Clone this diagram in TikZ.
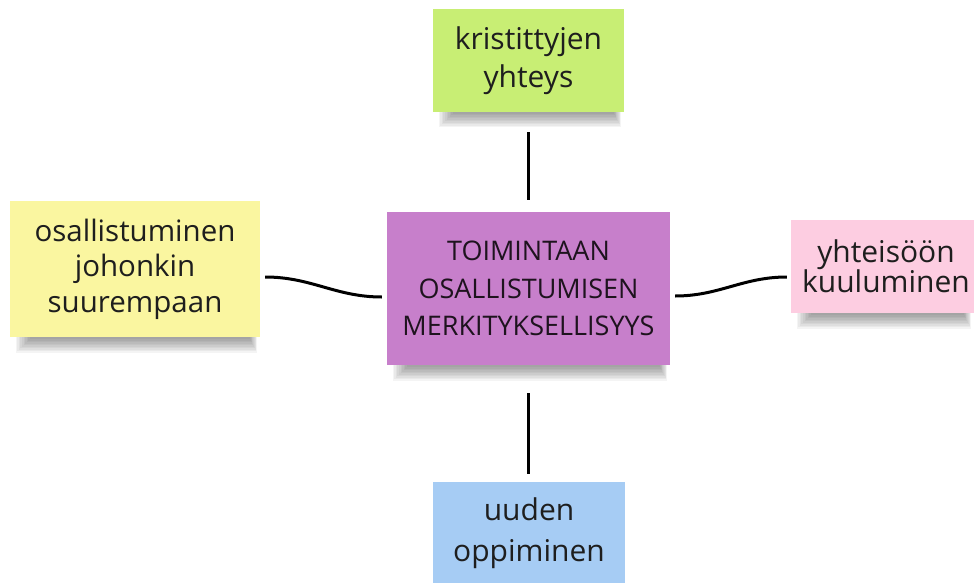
\documentclass[tikz,border=0pt]{standalone}
\usepackage{fontspec}
\setmainfont{Open Sans}
\definecolor{notegreen}{HTML}{C8EE74}
\definecolor{noteyellow}{HTML}{FAF6A0}
\definecolor{notepurple}{HTML}{C77FCB}
\definecolor{notepink}{HTML}{FDCDE1}
\definecolor{noteblue}{HTML}{A6CCF4}
\definecolor{inkdark}{HTML}{1E1E1E}
\newcommand{\stickyshadow}[3]{%
  \foreach \i in {1,...,10}{
    \fill[black,opacity=0.045] (#1+4+\i*1.6,#3-2) rectangle (#2-2-\i*0.8,#3+17-1.5*\i);
  }}
\begin{document}
\begin{tikzpicture}[x=1pt,y=-1pt,
  note/.style={rectangle,inner sep=0pt,align=center,text=inkdark},
  link/.style={line width=3pt,draw=black}]
\useasboundingbox (0,0) rectangle (974,583);
% shadows
\stickyshadow{433}{624}{112}
\stickyshadow{10}{260}{337}
\stickyshadow{387}{670}{365}
\stickyshadow{791}{974}{313}
% notes
\node[note,fill=notegreen,minimum width=191pt,minimum height=103pt,
  font=\fontsize{30}{38}\selectfont] (top) at (528.5,60.5) {kristittyjen\\yhteys};
\node[note,fill=noteyellow,minimum width=250pt,minimum height=136pt,
  font=\fontsize{29.5}{35.5}\selectfont] (left) at (135,269) {osallistuminen\\johonkin\\suurempaan};
\node[note,fill=notepurple,minimum width=283pt,minimum height=153pt,
  font=\fontsize{27}{37.5}\selectfont,text={black!85!notepurple}] (mid) at (528.5,288.5)
  {TOIMINTAAN\\OSALLISTUMISEN\\MERKITYKSELLISYYS};
\node[note,fill=notepink,minimum width=190pt,minimum height=93pt,
  font=\fontsize{30}{30}\selectfont] (right) at (886,266.5) {yhteisöön\\kuuluminen};
\node[note,fill=noteblue,minimum width=192pt,minimum height=103pt,
  font=\fontsize{30}{41}\selectfont] (bottom) at (529,533.5) {uuden\\oppiminen};
% connectors
\draw[link] ([yshift=-20pt]top.south) -- ([yshift=12pt]top.south |- mid.north);
\draw[link] ([yshift=-28pt]mid.south) -- ([yshift=8pt]mid.south |- bottom.north);
\draw[link] ([xshift=5pt,yshift=-8pt]left.east) to[out=0,in=180] ([xshift=-5pt,yshift=-8.5pt]mid.west);
\draw[link] ([xshift=5pt,yshift=-7.5pt]mid.east) to[out=0,in=180] ([xshift=-4pt,yshift=-10.5pt]right.west);
\end{tikzpicture}
\end{document}
